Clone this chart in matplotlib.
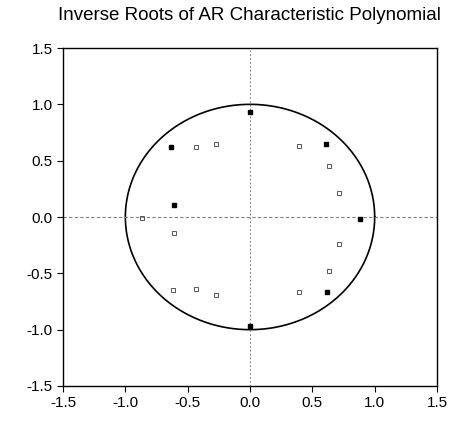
import numpy as np
import matplotlib.pyplot as plt

plt.rcParams['font.family'] = ['Liberation Sans', 'DejaVu Sans']

filled_re = [-0.63, -0.61, 0.00, 0.62, 0.88, 0.61, 0.00]
filled_im = [0.62, 0.11, -0.97, -0.67, -0.02, 0.65, 0.93]
hollow_re = [-0.43, -0.27, -0.87, -0.61, -0.62, -0.43, -0.27, 0.39, 0.63, 0.71, 0.71, 0.63, 0.39]
hollow_im = [0.62, 0.65, -0.01, -0.14, -0.65, -0.64, -0.69, 0.63, 0.45, 0.21, -0.24, -0.48, -0.67]

ticks = [-1.5, -1.0, -0.5, 0.0, 0.5, 1.0, 1.5]

fig = plt.figure(figsize=(4.55, 4.26), dpi=100)
ax = fig.add_axes([0.1385, 0.0939, 0.822, 0.7934])

theta = np.linspace(0, 2 * np.pi, 400)
ax.plot(np.cos(theta), np.sin(theta), color='black', lw=1.2)
ax.axhline(0, color='grey', ls=(0, (3, 2)), lw=0.8)
ax.axvline(0, color='grey', ls=(0, (1.5, 2)), lw=0.8)

ax.plot(filled_re, filled_im, 's', ms=2.5, color='black', ls='none')
ax.plot(hollow_re, hollow_im, 's', ms=3, mfc='none', mec='#555555', mew=0.7, ls='none')

ax.set_xlim(-1.5, 1.5)
ax.set_ylim(-1.5, 1.5)
ax.set_xticks(ticks)
ax.set_yticks(ticks)
ax.set_xticklabels(['%.1f' % t for t in ticks])
ax.set_yticklabels(['%.1f' % t for t in ticks])
ax.tick_params(direction='out', length=4, width=0.8, labelsize=11)
for s in ax.spines.values():
    s.set_linewidth(1.0)

fig.text(0.549, 0.963, 'Inverse Roots of AR Characteristic Polynomial',
         ha='center', va='center', fontsize=13.5)

fig.savefig('out.png', dpi=100)
